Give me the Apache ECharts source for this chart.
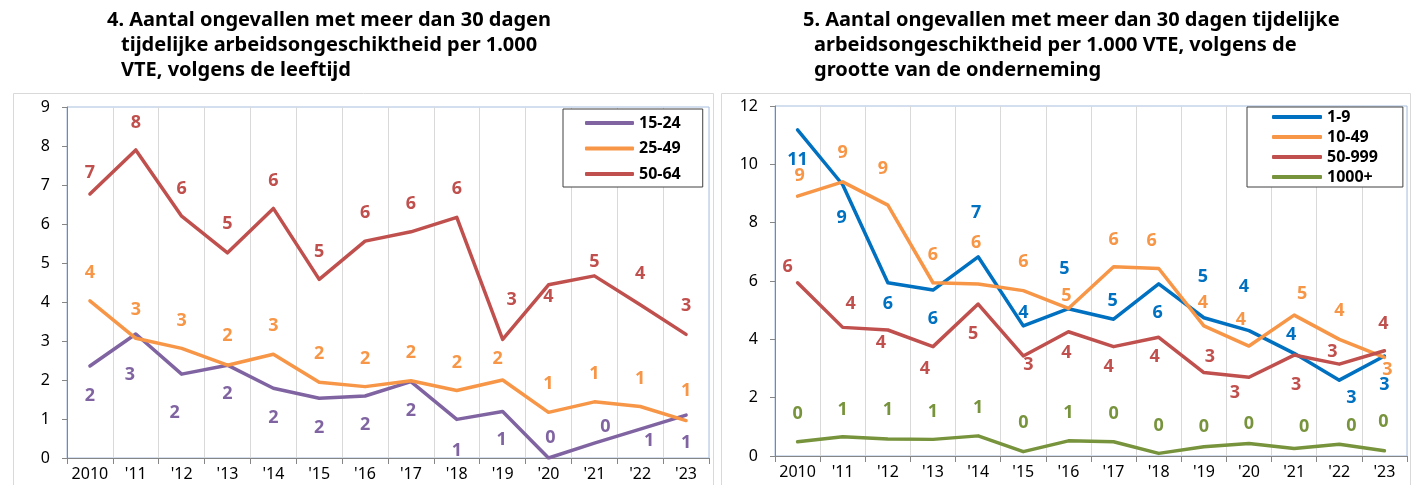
<!DOCTYPE html>
<html>
<head>
<meta charset="utf-8">
<script src="https://cdn.jsdelivr.net/npm/echarts@6/dist/echarts.min.js"></script>
<style>
html,body{margin:0;padding:0;background:#fff;}
#chart{width:1417px;height:485px;}
</style>
</head>
<body>
<div id="chart"></div>
<script>
// ---------- data ----------
const categories = ['2010', "'11", "'12", "'13", "'14", "'15", "'16", "'17", "'18", "'19", "'20", "'21", "'22", "'23"];

const leftTicks = [0, 1, 2, 3, 4, 5, 6, 7, 8, 9];
const rightTicks = [0, 2, 4, 6, 8, 10, 12];

const age15_24 = [2.36, 3.18, 2.15, 2.38, 1.79, 1.53, 1.59, 1.96, 0.99, 1.19, 0.0, 0.38, 0.74, 1.10];
const age25_49 = [4.03, 3.07, 2.81, 2.38, 2.66, 1.94, 1.83, 1.98, 1.73, 2.00, 1.17, 1.44, 1.32, 0.96];
const age50_64 = [6.77, 7.90, 6.20, 5.26, 6.40, 4.58, 5.56, 5.80, 6.17, 3.04, 4.44, 4.67, 3.93, 3.17];

const size1_9 = [11.18, 9.30, 5.94, 5.69, 6.83, 4.46, 5.05, 4.69, 5.90, 4.74, 4.30, 3.52, 2.60, 3.43];
const size10_49 = [8.91, 9.40, 8.60, 5.94, 5.90, 5.67, 5.06, 6.49, 6.43, 4.46, 3.77, 4.83, 4.00, 3.38];
const size50_999 = [5.94, 4.41, 4.32, 3.75, 5.21, 3.43, 4.26, 3.75, 4.07, 2.86, 2.70, 3.46, 3.15, 3.61];
const size1000 = [0.49, 0.66, 0.58, 0.57, 0.69, 0.15, 0.52, 0.49, 0.09, 0.32, 0.43, 0.26, 0.40, 0.18];

// ---------- layout: data-label offsets [dx, dy] relative to each point ----------
const offAge15_24 = [[0,30],[-6,41],[-7,39],[0,29],[0,30],[0,30],[0,29],[0,29],[0,31],[-1,28],[2,-20],[11,-16],[9,12],[0,28]];
const offAge25_49 = [[0,-28],[0,-28],[0,-28],[0,-29],[0,-28],[0,-28],[0,-28],[0,-28],[0,-28],[-5,-21],[0,-28],[0,-28],[0,-28],[0,-30]];
const offAge50_64 = [[0,-21],[0,-27],[0,-27],[0,-29],[0,-28],[0,-28],[0,-28],[0,-28],[0,-28],[9,-40],[0,12],[0,-14],[0,-31],[0,-28]];

const offSize1_9 = [[0,30],[-1,33],[0,21],[0,29],[-2,-44],[0,-13],[-4,-40],[-1,-18],[-1,29],[-1,-41],[-5,-44],[-3,-18],[12,18],[0,29]];
const offSize10_49 = [[2,-20],[0,-29],[-5,-36],[0,-28],[-2,-41],[0,-29],[-2,-13],[0,-27],[-7,-28],[-1,-23],[-8,-26],[8,-21],[0,-28],[3,12]];
const offSize50_999 = [[-10,-16],[8,-24],[-7,13],[-8,22],[-5,30],[5,9],[-2,21],[-5,20],[-4,20],[6,-16],[-14,16],[2,30],[-7,-12],[-1,-27]];
const offSize1000 = [[0,-28],[0,-27],[0,-29],[0,-28],[0,-28],[0,-29],[0,-28],[0,-28],[0,-28],[0,-20],[0,-20],[10,-22],[12,-18],[-1,-29]];

const COLORS = {
  purple: '#8064A2', orange: '#F79646', red: '#C0504D',
  blue: '#0070C0', green: '#77933C'
};

const FONT = 'Noto Sans';

function makeSeries(name, values, offsets, color, gridIdx) {
  return {
    name: name,
    type: 'line',
    xAxisIndex: gridIdx,
    yAxisIndex: gridIdx,
    symbol: 'circle',
    symbolSize: 2,
    itemStyle: { color: 'rgba(0,0,0,0)', borderWidth: 0 },
    lineStyle: { color: color, width: 3.5, cap: 'round', join: 'round' },
    emphasis: { disabled: true },
    silent: true,
    animation: false,
    z: 3,
    label: {
      show: true,
      position: 'inside',
      color: color,
      fontFamily: FONT,
      fontWeight: 'bold',
      fontSize: 18,
      formatter: function (p) { return String(Math.round(p.value)); }
    },
    data: values.map(function (v, i) {
      return { value: v, label: { offset: offsets[i] } };
    })
  };
}

function xAxisFor(gridIdx) {
  return {
    type: 'category',
    gridIndex: gridIdx,
    data: categories,
    boundaryGap: true,
    axisLine: { show: true, lineStyle: { color: '#868686', width: 1 } },
    axisTick: { show: true, length: 6, lineStyle: { color: '#868686' } },
    splitLine: { show: true, lineStyle: { color: '#D9D9D9', width: 1 } },
    axisLabel: { color: '#000', fontFamily: FONT, fontSize: 16, margin: 8, interval: 0 }
  };
}

function yAxisFor(gridIdx, ticks) {
  return {
    type: 'value',
    gridIndex: gridIdx,
    min: ticks[0],
    max: ticks[ticks.length - 1],
    interval: ticks[1] - ticks[0],
    axisLine: { show: true, lineStyle: { color: '#868686', width: 1 } },
    axisTick: { show: true, length: 5, lineStyle: { color: '#868686' } },
    splitLine: { show: false },
    axisLabel: { color: '#000', fontFamily: FONT, fontSize: 16, margin: 17 }
  };
}

const titleStyle = { fontFamily: FONT, fontWeight: 'bold', fontSize: 20, lineHeight: 25, color: '#000' };

const option = {
  backgroundColor: '#fff',
  animation: false,
  title: [
    { text: '4. Aantal ongevallen met meer dan 30 dagen', left: 107, top: 8, padding: 0, textStyle: titleStyle },
    { text: 'tijdelijke arbeidsongeschiktheid per 1.000\nVTE, volgens de leeftijd', left: 121, top: 33, padding: 0, textStyle: titleStyle },
    { text: '5. Aantal ongevallen met meer dan 30 dagen tijdelijke', left: 803, top: 8, padding: 0, textStyle: titleStyle },
    { text: 'arbeidsongeschiktheid per 1.000 VTE, volgens de\ngrootte van de onderneming', left: 814, top: 33, padding: 0, textStyle: titleStyle }
  ],
  graphic: [
    { type: 'rect', shape: { x: 13.5, y: 93.5, width: 700, height: 420 }, style: { fill: 'none', stroke: '#D9D9D9', lineWidth: 1 }, z: -10, silent: true },
    { type: 'rect', shape: { x: 721.5, y: 93.5, width: 689, height: 420 }, style: { fill: 'none', stroke: '#D9D9D9', lineWidth: 1 }, z: -10, silent: true }
  ],
  legend: [
    {
      orient: 'vertical', left: 563, top: 109,
      padding: [6, 22, 5, 22], itemGap: 9.5,
      itemWidth: 49, itemHeight: 4, icon: 'roundRect',
      backgroundColor: '#fff', borderColor: '#404040', borderWidth: 1,
      selectedMode: false,
      textStyle: { fontFamily: FONT, fontWeight: 'bold', fontSize: 16, lineHeight: 16, color: '#000' },
      data: [
        { name: '15-24', itemStyle: { color: COLORS.purple } },
        { name: '25-49', itemStyle: { color: COLORS.orange } },
        { name: '50-64', itemStyle: { color: COLORS.red } }
      ]
    },
    {
      orient: 'vertical', left: 1247, top: 107,
      padding: [2, 25, 2, 25], itemGap: 4,
      itemWidth: 50, itemHeight: 4, icon: 'roundRect',
      backgroundColor: '#fff', borderColor: '#404040', borderWidth: 1,
      selectedMode: false,
      textStyle: { fontFamily: FONT, fontWeight: 'bold', fontSize: 16, lineHeight: 16, color: '#000' },
      data: [
        { name: '1-9', itemStyle: { color: COLORS.blue } },
        { name: '10-49', itemStyle: { color: COLORS.orange } },
        { name: '50-999', itemStyle: { color: COLORS.red } },
        { name: '1000+', itemStyle: { color: COLORS.green } }
      ]
    }
  ],
  grid: [
    { left: 67, top: 107, width: 642, height: 351, show: true, borderColor: '#A7BFDE', borderWidth: 1, backgroundColor: 'transparent' },
    { left: 775, top: 106, width: 632, height: 350, show: true, borderColor: '#A7BFDE', borderWidth: 1, backgroundColor: 'transparent' }
  ],
  xAxis: [xAxisFor(0), xAxisFor(1)],
  yAxis: [yAxisFor(0, leftTicks), yAxisFor(1, rightTicks)],
  series: [
    makeSeries('15-24', age15_24, offAge15_24, COLORS.purple, 0),
    makeSeries('25-49', age25_49, offAge25_49, COLORS.orange, 0),
    makeSeries('50-64', age50_64, offAge50_64, COLORS.red, 0),
    makeSeries('1-9', size1_9, offSize1_9, COLORS.blue, 1),
    makeSeries('10-49', size10_49, offSize10_49, COLORS.orange, 1),
    makeSeries('50-999', size50_999, offSize50_999, COLORS.red, 1),
    makeSeries('1000+', size1000, offSize1000, COLORS.green, 1)
  ]
};

const chart = echarts.init(document.getElementById('chart'), null, { renderer: 'canvas' });
chart.setOption(option);
</script>
</body>
</html>
